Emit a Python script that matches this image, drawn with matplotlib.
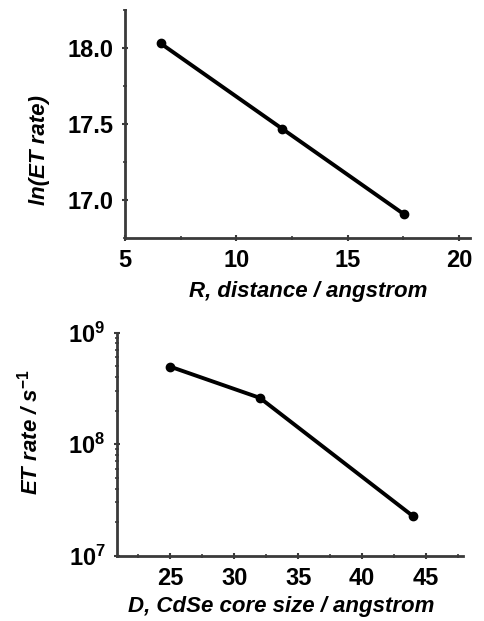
import math
import matplotlib
matplotlib.use("Agg")
import matplotlib.pyplot as plt
from matplotlib.ticker import MultipleLocator, FixedLocator, FuncFormatter, LogLocator, NullFormatter

plt.rcParams['font.family'] = ['Liberation Sans', 'DejaVu Sans']
plt.rcParams['font.weight'] = 'bold'
plt.rcParams['mathtext.fontset'] = 'custom'
plt.rcParams['mathtext.rm'] = 'Liberation Sans:bold'
plt.rcParams['mathtext.bf'] = 'Liberation Sans:bold'
plt.rcParams['mathtext.it'] = 'Liberation Sans:italic:bold'

# Top panel data
r_distance = [6.6, 12.05, 17.55]
ln_et_rate = [18.03, 17.47, 16.905]
top_xticks = [5, 10, 15, 20]
top_yticks = [17.0, 17.5, 18.0]

# Bottom panel data
core_size = [25, 32, 44]
et_rate = [4.95e8, 2.6e8, 2.25e7]
bot_xticks = [25, 30, 35, 40, 45]
bot_yticks = [1e7, 1e8, 1e9]

fig = plt.figure(figsize=(4.85, 6.21), dpi=100)
ax1 = fig.add_axes([0.2577, 0.6167, 0.969 - 0.2577, 0.984 - 0.6167])
ax2 = fig.add_axes([0.2406, 0.1052, 0.955 - 0.2406, 0.4643 - 0.1052])

spine_color = '#3a3a3a'
for ax in (ax1, ax2):
    for s in ('top', 'right'):
        ax.spines[s].set_visible(False)
    for s in ('left', 'bottom'):
        ax.spines[s].set_linewidth(2.0)
        ax.spines[s].set_color(spine_color)
    ax.tick_params(which='major', direction='inout', length=4, width=1.5,
                   color=spine_color, labelsize=17)
    ax.tick_params(axis='x', which='major', pad=6)
    ax.tick_params(axis='y', which='major', pad=6)
    ax.tick_params(which='minor', direction='inout', length=3, width=1.2,
                   color=spine_color)
    ax.patch.set_alpha(0)

label_kw = dict(fontsize=16, fontstyle='italic', fontweight='bold')

ax1.plot(r_distance, ln_et_rate, color='black', lw=2.8, marker='o', ms=6)
ax1.set_xlim(5, 20.5)
ax1.set_ylim(16.75, 18.25)
ax1.xaxis.set_major_locator(FixedLocator(top_xticks))
ax1.xaxis.set_minor_locator(MultipleLocator(2.5))
ax1.yaxis.set_major_locator(FixedLocator(top_yticks))
ax1.yaxis.set_minor_locator(MultipleLocator(0.25))
ax1.yaxis.set_major_formatter(FuncFormatter(lambda v, p: f"{v:.1f}"))
ax1.set_xlabel('R, distance / angstrom', **label_kw)
ax1.set_ylabel('ln(ET rate)', **label_kw)
ax1.xaxis.set_label_coords(0.53, -0.19)
ax1.yaxis.set_label_coords(-0.217, 0.386)

ax2.plot(core_size, et_rate, color='black', lw=2.8, marker='o', ms=6)
ax2.set_yscale('log')
ax2.set_xlim(20.8, 47.9)
ax2.set_ylim(1e7, 1e9)
ax2.xaxis.set_major_locator(FixedLocator(bot_xticks))
ax2.xaxis.set_minor_locator(MultipleLocator(2.5))
ax2.yaxis.set_major_locator(FixedLocator(bot_yticks))
ax2.yaxis.set_minor_locator(LogLocator(base=10, subs=range(2, 10)))
ax2.yaxis.set_minor_formatter(NullFormatter())
ax2.yaxis.set_major_formatter(FuncFormatter(lambda v, p: r'$\mathbf{10^{%d}}$' % round(math.log10(v))))
ax2.set_xlabel('D, CdSe core size / angstrom', **label_kw)
ax2.set_ylabel(r'ET rate / s$^{-1}$', **label_kw)
ax2.xaxis.set_label_coords(0.475, -0.18)
ax2.yaxis.set_label_coords(-0.213, 0.555)

fig.savefig('out.png', dpi=100, facecolor='white')
